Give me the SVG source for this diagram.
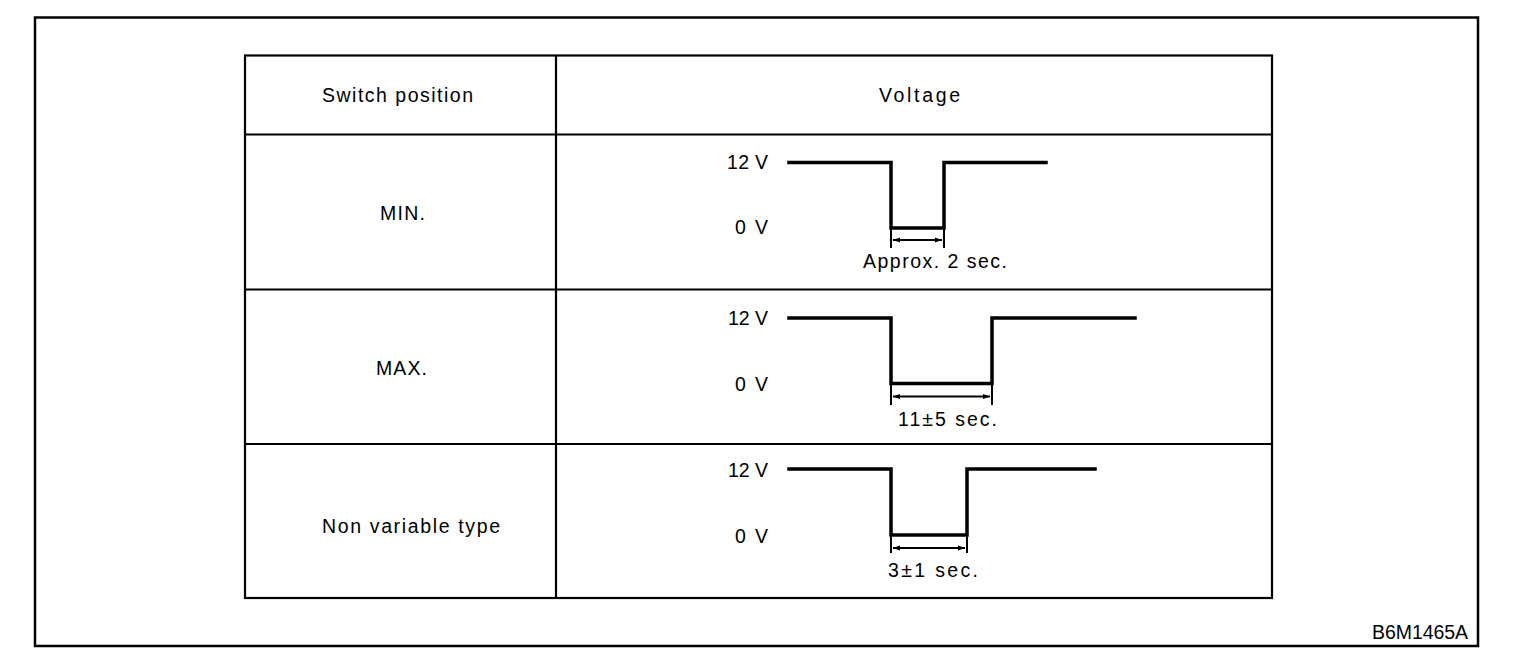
<svg xmlns="http://www.w3.org/2000/svg" width="1520" height="664" viewBox="0 0 1520 664">
<style>
text{font-family:"Liberation Sans",Arial,sans-serif;font-size:19.5px;fill:#000}
.frame{fill:none;stroke:#000;stroke-width:2.5}
.grid{stroke:#000;stroke-width:2.2;fill:none}
.wave{fill:none;stroke:#000;stroke-width:3.5;stroke-linejoin:miter;stroke-linecap:square}
.dim{stroke:#000;stroke-width:1.8;fill:none}
.tick{stroke:#000;stroke-width:2;fill:none}
</style>
<defs>
<marker id="ah" viewBox="0 0 10 10" refX="10" refY="5" markerWidth="11" markerHeight="7" markerUnits="userSpaceOnUse" orient="auto-start-reverse">
<path d="M0,1.5 L10,5 L0,8.5 Z" fill="#000"/>
</marker>
</defs>
<rect width="1520" height="664" fill="#fff"/>
<rect class="frame" x="35" y="17.5" width="1443" height="628.5"/>
<g id="table">
<rect class="grid" x="245" y="55.5" width="1027" height="542.5"/>
<line class="grid" x1="556" y1="55.5" x2="556" y2="598"/>
<line class="grid" x1="245" y1="134.5" x2="1272" y2="134.5"/>
<line class="grid" x1="245" y1="289.5" x2="1272" y2="289.5"/>
<line class="grid" x1="245" y1="444" x2="1272" y2="444"/>
</g>
<g id="header">
<text x="322" y="102" textLength="151" lengthAdjust="spacing">Switch position</text>
<text x="879" y="102" textLength="81" lengthAdjust="spacing">Voltage</text>
</g>
<g id="row-min">
<text x="380" y="220" textLength="45" lengthAdjust="spacing">MIN.</text>
<text x="727" y="169" textLength="41" lengthAdjust="spacing">12 V</text>
<text x="735" y="234" textLength="33" lengthAdjust="spacing">0 V</text>
<text x="863" y="268" textLength="144" lengthAdjust="spacing">Approx. 2 sec.</text>
</g>
<g id="row-max">
<text x="376" y="375" textLength="51" lengthAdjust="spacing">MAX.</text>
<text x="728" y="325" textLength="40" lengthAdjust="spacing">12 V</text>
<text x="735" y="391" textLength="33" lengthAdjust="spacing">0 V</text>
<text x="898" y="426" textLength="99" lengthAdjust="spacing">11±5 sec.</text>
</g>
<g id="row-nonvar">
<text x="322" y="533" textLength="178" lengthAdjust="spacing">Non variable type</text>
<text x="728" y="477" textLength="40" lengthAdjust="spacing">12 V</text>
<text x="735" y="543" textLength="33" lengthAdjust="spacing">0 V</text>
<text x="888" y="577" textLength="90" lengthAdjust="spacing">3±1 sec.</text>
</g>
<g id="connectors">
<polyline class="wave" points="789,162.5 891,162.5 891,228 944,228 944,162.5 1046,162.5"/>
<line class="tick" x1="891" y1="228" x2="891" y2="248"/>
<line class="tick" x1="944" y1="228" x2="944" y2="248"/>
<line class="dim" x1="893" y1="240" x2="942" y2="240" marker-start="url(#ah)" marker-end="url(#ah)"/>

<polyline class="wave" points="789,318 891,318 891,383.5 992,383.5 992,318 1135,318"/>
<line class="tick" x1="891" y1="383" x2="891" y2="405"/>
<line class="tick" x1="992" y1="383" x2="992" y2="405"/>
<line class="dim" x1="893" y1="396.5" x2="990" y2="396.5" marker-start="url(#ah)" marker-end="url(#ah)"/>

<polyline class="wave" points="789,469 891,469 891,535 967,535 967,469 1095,469"/>
<line class="tick" x1="891" y1="535" x2="891" y2="553"/>
<line class="tick" x1="967" y1="535" x2="967" y2="553"/>
<line class="dim" x1="893" y1="548" x2="965" y2="548" marker-start="url(#ah)" marker-end="url(#ah)"/>
</g>
<text x="1372" y="639" textLength="96" lengthAdjust="spacing">B6M1465A</text>
</svg>
